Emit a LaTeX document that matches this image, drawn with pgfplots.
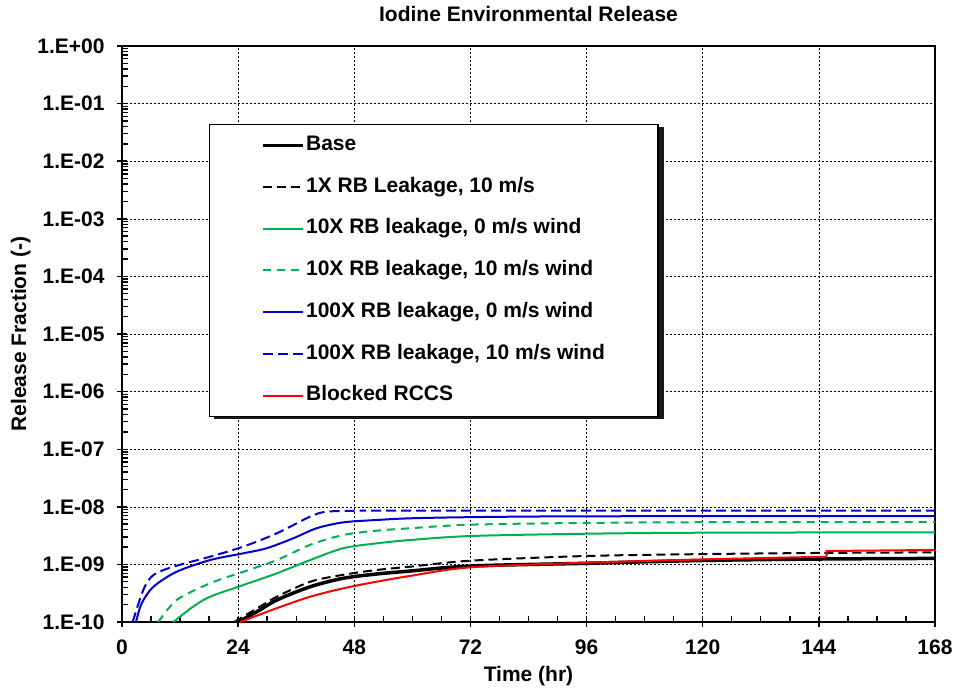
\documentclass[border=0pt]{standalone}
\usepackage{fontspec}
\setmainfont{Liberation Sans}
\usepackage{pgfplots}
\pgfplotsset{compat=1.18}
\definecolor{mygreen}{RGB}{0,176,80}
\definecolor{myblue}{RGB}{0,0,204}
\newcommand{\bigf}{\fontsize{21bp}{24bp}\selectfont\bfseries}
\begin{document}
\begin{tikzpicture}
\path[use as bounding box] (0,0) rectangle (954bp,692bp);
\begin{semilogyaxis}[
  at={(122bp,70bp)}, anchor=south west,
  scale only axis, width=813bp, height=576bp,
  xmin=0, xmax=168, ymin=1e-10, ymax=1,
  xtick={0,24,48,72,96,120,144,168},
  xticklabels={0,24,48,72,96,120,144,168},
  minor x tick num=3,
  ytick={1e-10,1e-9,1e-8,1e-7,1e-6,1e-5,1e-4,1e-3,1e-2,1e-1,1},
  yticklabels={1.E-10,1.E-09,1.E-08,1.E-07,1.E-06,1.E-05,1.E-04,1.E-03,1.E-02,1.E-01,1.E+00},
  minor ytick={2e-10,3e-10,4e-10,5e-10,6e-10,7e-10,8e-10,9e-10,
    2e-9,3e-9,4e-9,5e-9,6e-9,7e-9,8e-9,9e-9,
    2e-8,3e-8,4e-8,5e-8,6e-8,7e-8,8e-8,9e-8,
    2e-7,3e-7,4e-7,5e-7,6e-7,7e-7,8e-7,9e-7,
    2e-6,3e-6,4e-6,5e-6,6e-6,7e-6,8e-6,9e-6,
    2e-5,3e-5,4e-5,5e-5,6e-5,7e-5,8e-5,9e-5,
    2e-4,3e-4,4e-4,5e-4,6e-4,7e-4,8e-4,9e-4,
    2e-3,3e-3,4e-3,5e-3,6e-3,7e-3,8e-3,9e-3,
    0.02,0.03,0.04,0.05,0.06,0.07,0.08,0.09,
    0.2,0.3,0.4,0.5,0.6,0.7,0.8,0.9},
  tick label style={font=\bigf},
  xticklabel style={anchor=base, yshift=-27bp},
  yticklabel style={anchor=east, xshift=-9bp},
  grid=major,
  major grid style={black, line width=0.6bp, dash pattern=on 2bp off 2bp},
  axis line style={line width=1.8bp},
  tick style={black, line width=1.4bp},
  tick align=center,
  major tick length=10bp,
  minor tick length=6bp,
  minor x tick style={yshift=3bp},
  minor y tick style={xshift=3bp},
  tick pos=left,
  title={Iodine Environmental Release},
  title style={at={(axis description cs:0.5,1)}, anchor=base, yshift=19bp, font=\bigf},
  xlabel={Time (hr)},
  xlabel style={at={(axis description cs:0.5,-0.104)}, anchor=base, font=\bigf},
  ylabel={Release Fraction (-)},
  ylabel style={at={(axis description cs:-0.118,0.5)}, anchor=base, font=\bigf},
  legend cell align=left,
  legend image code/.code={\draw[#1,mark=none] (0bp,0bp) -- (40bp,0bp);},
  legend style={at={(axis description cs:0.107,0.8646)}, anchor=north west,
    draw=black, line width=1.2bp, fill=white,
    inner xsep=52bp, inner ysep=10bp, row sep=20.2bp,
    font=\bigf,
    nodes={inner sep=1bp, text height=15bp, text depth=4.5bp}},
]
% legend shadow (drawn first, covered by the legend box)
\fill[black!90] (axis description cs:0.1132,0.8594) rectangle (axis description cs:0.6667,0.3524);
\addplot[black, line width=3.5bp, smooth] coordinates {
(24,1.0e-10)(28.5,1.62e-10)(32,2.41e-10)(38.9,4.10e-10)(45.7,5.74e-10)(52.6,6.81e-10)(59.5,7.67e-10)(72,9.38e-10)(96,1.045e-9)(120,1.17e-9)(144,1.24e-9)(168,1.27e-9)};
\addlegendentry{Base}
\addplot[black, line width=2bp, dash pattern=on 9bp off 5bp, smooth] coordinates {
(23.2,1.0e-10)(28.5,1.85e-10)(32,2.75e-10)(38.9,5.01e-10)(45.7,6.6e-10)(52.6,8.0e-10)(59.5,9.12e-10)(72,1.16e-9)(96,1.40e-9)(120,1.51e-9)(144,1.58e-9)(168,1.62e-9)};
\addlegendentry{1X RB Leakage, 10 m/s}
\addplot[mygreen, line width=2bp, smooth] coordinates {
(10.6,1.0e-10)(14.7,1.85e-10)(18.2,2.75e-10)(25.1,4.39e-10)(32,7.0e-10)(38.9,1.19e-9)(45.7,1.91e-9)(52.6,2.32e-9)(59.5,2.65e-9)(72,3.11e-9)(96,3.41e-9)(120,3.55e-9)(168,3.61e-9)};
\addlegendentry{10X RB leakage, 0 m/s wind}
\addplot[mygreen, line width=2bp, dash pattern=on 8bp off 6bp, smooth] coordinates {
(7.5,1.0e-10)(11.3,2.41e-10)(18.2,4.70e-10)(25.1,7.46e-10)(32,1.19e-9)(38.9,2.19e-9)(45.7,3.24e-9)(52.6,3.85e-9)(59.5,4.24e-9)(72,4.90e-9)(96,5.25e-9)(120,5.40e-9)(168,5.45e-9)};
\addlegendentry{10X RB leakage, 10 m/s wind}
\addplot[myblue, line width=2bp, smooth] coordinates {
(2.9,1.0e-10)(4.07,2.11e-10)(6.5,4.10e-10)(11.3,7.46e-10)(18.2,1.19e-9)(25.1,1.56e-9)(29.9,1.91e-9)(35.4,2.84e-9)(40.2,4.24e-9)(45.7,5.37e-9)(52.6,5.90e-9)(59.5,6.31e-9)(72,6.61e-9)(96,6.84e-9)(168,6.92e-9)};
\addlegendentry{100X RB leakage, 0 m/s wind}
\addplot[myblue, line width=2bp, dash pattern=on 10bp off 5bp, smooth] coordinates {
(2.2,1.0e-10)(4.4,3.6e-10)(6.5,6.55e-10)(10.6,9.12e-10)(18.2,1.36e-9)(25.1,2.04e-9)(32,3.47e-9)(38.9,6.76e-9)(42.3,8.22e-9)(49.2,8.55e-9)(60,8.55e-9)(168,8.55e-9)};
\addlegendentry{100X RB leakage, 10 m/s wind}
\addplot[red, line width=2bp, smooth] coordinates {
(24.4,1.0e-10)(32,1.74e-10)(38.9,2.75e-10)(45.7,3.84e-10)(52.6,5.01e-10)(59.5,6.31e-10)(72,8.91e-10)(96,1.07e-9)(120,1.22e-9)(145.6,1.36e-9)};
\addlegendentry{Blocked RCCS}
\addplot[red, line width=2bp, forget plot] coordinates {
(145.6,1.36e-9)(145.6,1.71e-9)(168,1.78e-9)};
\end{semilogyaxis}
\end{tikzpicture}
\end{document}
